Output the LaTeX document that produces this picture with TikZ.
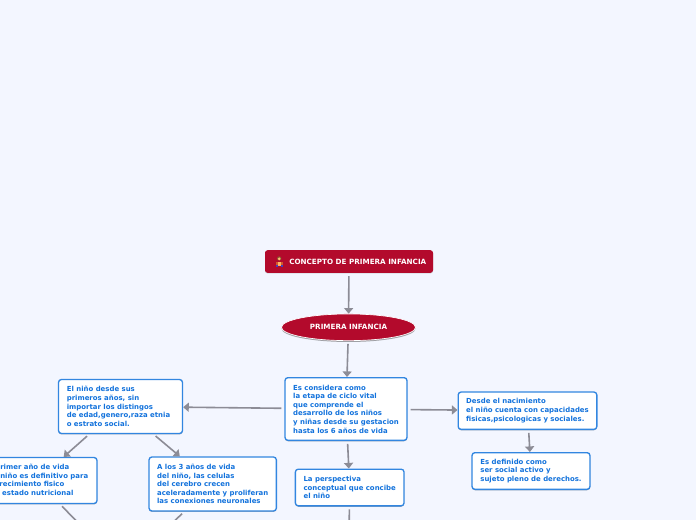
\documentclass[tikz,border=0pt]{standalone}
\usepackage{fontspec}
\setmainfont{DejaVu Sans}[BoldFont={DejaVu Sans Bold}]
\usetikzlibrary{arrows.meta,shapes.geometric,shadows}
\definecolor{bgc}{HTML}{F3F6FF}
\definecolor{redc}{HTML}{B30A2C}
\definecolor{bluet}{HTML}{1272DC}
\definecolor{blueb}{HTML}{3286E0}
\definecolor{conc}{HTML}{8C8C96}
\tikzset{
  every node/.style={font=\fontsize{5.4pt}{6.45pt}\selectfont\bfseries},
  infobox/.style={draw=blueb,fill=white,line width=1pt,rounded corners=2.2pt,text=bluet,align=left,inner sep=0pt,
    font=\fontsize{5.2pt}{6.45pt}\selectfont\bfseries,
    drop shadow={shadow xshift=0pt,shadow yshift=-0.7pt,fill=black!60,opacity=.5}},
  conn/.style={draw=conc,line width=1.2pt,shorten <=2.2pt,-{Triangle[width=6.8pt,length=4.2pt]}},
  connfree/.style={draw=conc,line width=1.2pt,shorten <=2.2pt},
}
\begin{document}
\begin{tikzpicture}[x=0.75pt,y=-0.75pt]
\useasboundingbox (0,0) rectangle (696,520);
\clip (0,0) rectangle (696,520);
\fill[bgc] (0,0) rectangle (696,520);
% title
\node[fill=redc,rounded corners=2pt,text=white,minimum width=126pt,minimum height=17pt,inner sep=0pt,
  drop shadow={shadow xshift=0pt,shadow yshift=-0.5pt,fill=black!60,opacity=.35}] (concepto) at (349,261.5) {};
\node[text=white,anchor=west,inner sep=0pt] (conceptot) at (289,261.8) {CONCEPTO DE PRIMERA INFANCIA};
% icon
\fill[brown!70!black] (279.2,258.4) circle (2.1);
\fill[orange!55!white] (279.2,258.9) circle (1.5);
\fill[brown!70!red] (276,266.5) rectangle (282.5,261.8);
\fill[orange!60!white] (278,262.5) rectangle (281,266);
\fill[blue!50!gray] (276,265.5) rectangle (278,267.5);
\fill[blue!50!gray] (280.5,265.5) rectangle (282.5,267.5);
% ellipse
\node[ellipse,fill=redc,draw=white,line width=0.5pt,minimum width=100.5pt,minimum height=20pt,inner sep=0pt,text=white,
  drop shadow={shadow xshift=0pt,shadow yshift=-1pt,fill=black!70,opacity=.5}] (elipse) at (348.5,327.3) {PRIMERA INFANCIA};
% boxes
\node[infobox,minimum width=91.5pt,minimum height=47pt] (es) at (346,409) {Es considera como\\la etapa de ciclo vital\\que comprende el\\desarrollo de los niños\\y niñas desde su gestacion\\hasta los 6 años de vida};
\node[infobox,minimum width=93pt,minimum height=40.5pt] (nino) at (120.5,406.5) {El niño desde sus\\primeros años, sin\\importar los distingos\\de edad,genero,raza etnia\kern3pt\hbox{}\\o estrato social.};
\node[infobox,minimum width=90pt,minimum height=34.5pt] (primer) at (37,480.5) {El primer año de vida\\del niño es definitivo para\\el crecimiento fisico\\y el estado nutricional};
\node[infobox,minimum width=95.5pt,minimum height=40.5pt] (tres) at (212.7,484) {A los 3 años de vida\\del niño, las celulas\\del cerebro crecen\\aceleradamente y proliferan\\las conexiones neuronales};
\node[infobox,minimum width=81.5pt,minimum height=27.5pt] (persp) at (349.7,487.5) {La perspectiva\\conceptual que concibe\\el niño};
\node[infobox,minimum width=104pt,minimum height=28pt] (desde) at (527.5,410.7) {Desde el nacimiento\\el niño cuenta con capacidades\\fisicas,psicologicas y sociales.};
\node[infobox,minimum width=88.5pt,minimum height=27.5pt] (definido) at (531,471) {Es definido como\\ser social activo y\\sujeto pleno de derechos.};
% free ends
\coordinate (f1) at (90,535);
\coordinate (f2) at (160,535);
\coordinate (f3) at (349,535);
% connectors
\draw[conn] (concepto) -- (elipse);
\draw[conn] (elipse) -- (es);
\draw[conn] (es) -- (nino);
\draw[conn] (es) -- (persp);
\draw[conn] (es) -- (desde);
\draw[conn] (nino) -- (primer);
\draw[conn] (nino) -- (tres);
\draw[conn] (desde) -- (definido);
\draw[connfree] (primer) -- (f1);
\draw[connfree] (tres) -- (f2);
\draw[connfree] (persp) -- (f3);
\end{tikzpicture}
\end{document}
